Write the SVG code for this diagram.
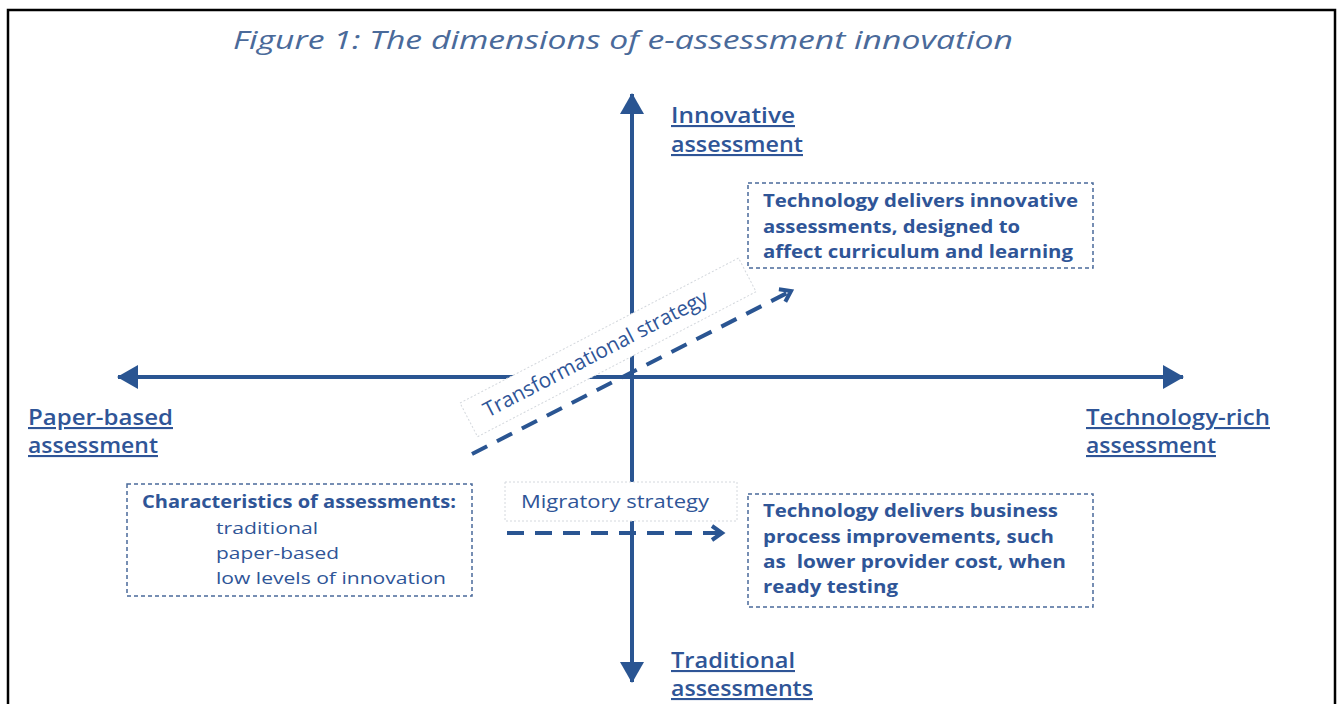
<svg xmlns="http://www.w3.org/2000/svg" width="1337" height="704" viewBox="0 0 1337 704">
<style>
.t{font-family:"Open Sans","Liberation Sans",sans-serif;fill:#2f5597}
.title{font-size:26px;font-style:italic;fill:#4a6a9a}
.lab{font-size:21px;font-weight:600;text-decoration:underline}
.bx{font-size:17px;font-weight:700}
.rg{font-size:17px;font-weight:400}
.box{fill:#fff;stroke:#4a6a9a;stroke-width:1.5;stroke-dasharray:4 3}
.sbox{fill:#fff;stroke:#d4d8dd;stroke-width:1;stroke-dasharray:2 2}
.axis{stroke:#2a5592;stroke-width:4;fill:none}
.dash{stroke:#2a5592;stroke-width:4;fill:none;stroke-dasharray:17 11}
</style>
<defs>
<marker id="tri" markerUnits="userSpaceOnUse" markerWidth="24" markerHeight="26" refX="20" refY="12" orient="auto">
<path d="M0,0 L21,12 L0,24 Z" fill="#2a5592"/>
</marker>
<marker id="chev" markerUnits="userSpaceOnUse" markerWidth="20" markerHeight="20" refX="12" refY="9" orient="auto">
<path d="M2,2 L12,9 L2,16" fill="none" stroke="#2a5592" stroke-width="4" stroke-dasharray="none"/>
</marker>
</defs>
<rect x="8" y="10" width="1327" height="710" fill="#fff" stroke="#000" stroke-width="2.5"/>
<text class="t title" x="233" y="49" textLength="780" lengthAdjust="spacingAndGlyphs">Figure 1: The dimensions of e-assessment innovation</text>
<g id="connectors">
<line class="axis" x1="632" y1="640" x2="632" y2="94" marker-end="url(#tri)"/>
<line class="axis" x1="632" y1="377" x2="632" y2="682" marker-end="url(#tri)"/>
<line class="axis" x1="632" y1="377" x2="118" y2="377" marker-end="url(#tri)"/>
<line class="axis" x1="632" y1="377" x2="1183" y2="377" marker-end="url(#tri)"/>
</g>
<g id="transformational-label">
<g transform="translate(460,403) rotate(-27.5)">
<rect class="sbox" x="0" y="0" width="314" height="38"/>
<text class="t" x="18" y="26" font-size="21" textLength="250" lengthAdjust="spacingAndGlyphs">Transformational strategy</text>
</g>
</g>
<g id="migratory-label">
<rect class="sbox" x="505" y="482" width="232" height="39"/>
<text class="t" x="521" y="508" font-size="18" textLength="188" lengthAdjust="spacingAndGlyphs">Migratory strategy</text>
</g>
<g id="strategy-arrows">
<line class="dash" x1="472" y1="454" x2="791" y2="291" marker-end="url(#chev)"/>
<line class="dash" x1="507" y1="533" x2="722" y2="533" marker-end="url(#chev)"/>
</g>
<g id="innovative">
<text class="t lab" x="671" y="123" textLength="124" lengthAdjust="spacingAndGlyphs">Innovative</text>
<text class="t lab" x="671" y="152" textLength="132" lengthAdjust="spacingAndGlyphs">assessment</text>
</g>
<g id="paper-based">
<text class="t lab" x="28" y="425" textLength="145" lengthAdjust="spacingAndGlyphs">Paper-based</text>
<text class="t lab" x="28" y="453" textLength="130" lengthAdjust="spacingAndGlyphs">assessment</text>
</g>
<g id="technology-rich">
<text class="t lab" x="1086" y="425" textLength="184" lengthAdjust="spacingAndGlyphs">Technology-rich</text>
<text class="t lab" x="1086" y="453" textLength="130" lengthAdjust="spacingAndGlyphs">assessment</text>
</g>
<g id="traditional">
<text class="t lab" x="671" y="668" textLength="124" lengthAdjust="spacingAndGlyphs">Traditional</text>
<text class="t lab" x="671" y="696" textLength="142" lengthAdjust="spacingAndGlyphs">assessments</text>
</g>
<g id="box-innovative">
<rect class="box" x="748" y="183" width="345" height="85"/>
<text class="t bx" x="763" y="207" textLength="315" lengthAdjust="spacingAndGlyphs">Technology delivers innovative</text>
<text class="t bx" x="763" y="233" textLength="257" lengthAdjust="spacingAndGlyphs">assessments, designed to</text>
<text class="t bx" x="763" y="258" textLength="310" lengthAdjust="spacingAndGlyphs">affect curriculum and learning</text>
</g>
<g id="box-business">
<rect class="box" x="748" y="494" width="345" height="113"/>
<text class="t bx" x="763" y="517" textLength="295" lengthAdjust="spacingAndGlyphs">Technology delivers business</text>
<text class="t bx" x="763" y="543" textLength="291" lengthAdjust="spacingAndGlyphs">process improvements, such</text>
<text class="t bx" x="763" y="568" textLength="303" lengthAdjust="spacingAndGlyphs" xml:space="preserve">as  lower provider cost, when</text>
<text class="t bx" x="763" y="593" textLength="135" lengthAdjust="spacingAndGlyphs">ready testing</text>
</g>
<g id="box-characteristics">
<rect class="box" x="127" y="484" width="345" height="112"/>
<text class="t bx" x="142" y="508" textLength="314" lengthAdjust="spacingAndGlyphs">Characteristics of assessments:</text>
<text class="t rg" x="216" y="534" textLength="102" lengthAdjust="spacingAndGlyphs">traditional</text>
<text class="t rg" x="216" y="559" textLength="123" lengthAdjust="spacingAndGlyphs">paper-based</text>
<text class="t rg" x="216" y="584" textLength="230" lengthAdjust="spacingAndGlyphs">low levels of innovation</text>
</g>
</svg>
